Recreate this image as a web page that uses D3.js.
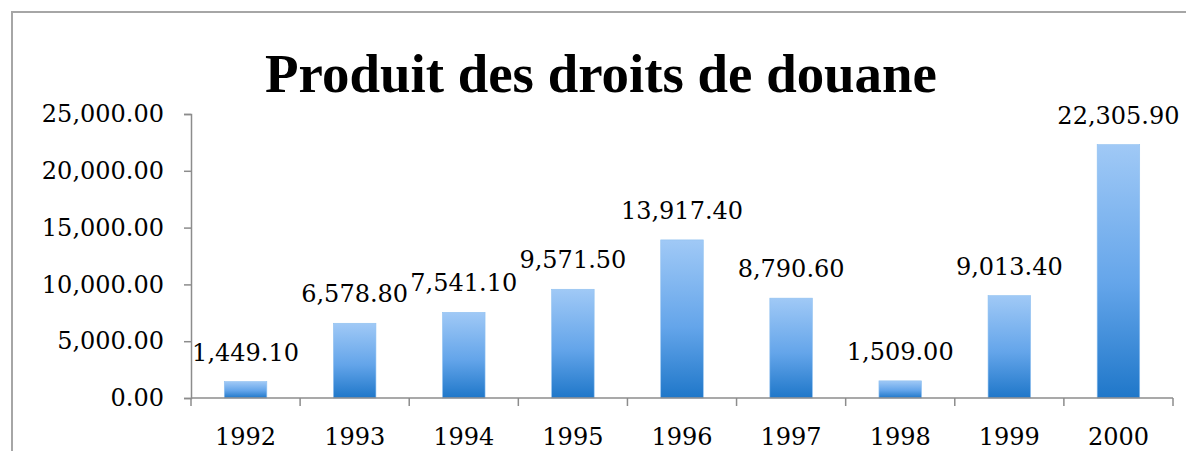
<!DOCTYPE html>
<html>
<head>
<meta charset="utf-8">
<script src="https://cdn.jsdelivr.net/npm/d3@7"></script>
<style>
  body { margin: 0; background: #fff; }
  svg { display: block; }
</style>
</head>
<body>
<div id="chart"></div>
<script>
// data
const years = ['1992', '1993', '1994', '1995', '1996', '1997', '1998', '1999', '2000'];
const values = [1449.1, 6578.8, 7541.1, 9571.5, 13917.4, 8790.6, 1509.0, 9013.4, 22305.9];
const yTicks = [0, 5000, 10000, 15000, 20000, 25000];
const title = 'Produit des droits de douane';

const width = 1186;
const height = 451;
const margin = { left: 191, right: 13, top: 114, bottom: 53 };
const labelFont = '"DejaVu Serif", serif';
const labelSize = 24;

const svg = d3.select('#chart')
  .append('svg')
  .attr('width', width)
  .attr('height', height);

// outer chart frame (cut by the picture edges)
svg.append('path')
  .attr('d', `M12,${height + 2} V12 H${width + 2}`)
  .attr('fill', 'none')
  .attr('stroke', '#a6a6a6')
  .attr('stroke-width', 2);

const defs = svg.append('defs');
const grad = defs.append('linearGradient')
  .attr('id', 'barGrad')
  .attr('x1', 0).attr('y1', 0).attr('x2', 0).attr('y2', 1);
grad.append('stop').attr('offset', '0%').attr('stop-color', '#a0c9f6');
grad.append('stop').attr('offset', '55%').attr('stop-color', '#64a5ea');
grad.append('stop').attr('offset', '100%').attr('stop-color', '#1f77c9');

const x = d3.scaleBand()
  .domain(years)
  .range([margin.left, width - margin.right])
  .paddingInner(0.61)
  .paddingOuter(0.305);

const y = d3.scaleLinear()
  .domain([0, 25000])
  .range([height - margin.bottom, margin.top]);

// title, sized to the width it takes in the picture
const t = svg.append('text')
  .attr('x', 601)
  .attr('y', 92)
  .attr('text-anchor', 'middle')
  .attr('font-family', '"Liberation Serif", serif')
  .attr('font-weight', 'bold')
  .attr('font-size', 50)
  .attr('fill', '#000')
  .text(title);
const tw = t.node().getComputedTextLength();
t.attr('font-size', 50 * 672 / tw);

// y axis
const yAxis = svg.append('g')
  .attr('transform', `translate(${margin.left},0)`)
  .call(d3.axisLeft(y).tickValues(yTicks).tickSize(7).tickPadding(20)
    .tickFormat(d3.format(',.2f')));
yAxis.select('.domain').attr('stroke', '#8c8c8c').attr('stroke-width', 1.5);
yAxis.selectAll('.tick line').attr('stroke', '#8c8c8c').attr('stroke-width', 1.5);
yAxis.selectAll('.tick text')
  .attr('font-family', labelFont)
  .attr('font-size', labelSize)
  .attr('fill', '#000');

// bars
svg.selectAll('.bar')
  .data(values)
  .join('rect')
  .attr('class', 'bar')
  .attr('x', (d, i) => x(years[i]))
  .attr('y', d => y(d))
  .attr('width', x.bandwidth())
  .attr('height', d => y(0) - y(d))
  .attr('fill', 'url(#barGrad)')
  .attr('stroke', '#8fc0f0')
  .attr('stroke-width', 0.6);

// value labels
svg.selectAll('.val')
  .data(values)
  .join('text')
  .attr('class', 'val')
  .attr('x', (d, i) => x(years[i]) + x.bandwidth() / 2)
  .attr('y', d => y(d) - 21)
  .attr('text-anchor', 'middle')
  .attr('font-family', labelFont)
  .attr('font-size', labelSize)
  .attr('fill', '#000')
  .text(d => d3.format(',.2f')(d));

// x axis: ticks sit between categories
const step = x.step();
const xAxisG = svg.append('g');
xAxisG.append('line')
  .attr('x1', margin.left).attr('x2', width - margin.right)
  .attr('y1', y(0)).attr('y2', y(0))
  .attr('stroke', '#8c8c8c').attr('stroke-width', 1.5);
xAxisG.selectAll('.xt')
  .data(d3.range(years.length + 1))
  .join('line')
  .attr('class', 'xt')
  .attr('x1', i => margin.left + i * step)
  .attr('x2', i => margin.left + i * step)
  .attr('y1', y(0))
  .attr('y2', y(0) + 8)
  .attr('stroke', '#8c8c8c').attr('stroke-width', 1.5);
xAxisG.selectAll('.xl')
  .data(years)
  .join('text')
  .attr('class', 'xl')
  .attr('x', d => x(d) + x.bandwidth() / 2)
  .attr('y', 445)
  .attr('text-anchor', 'middle')
  .attr('font-family', labelFont)
  .attr('font-size', labelSize)
  .attr('fill', '#000')
  .text(d => d);
</script>
</body>
</html>
